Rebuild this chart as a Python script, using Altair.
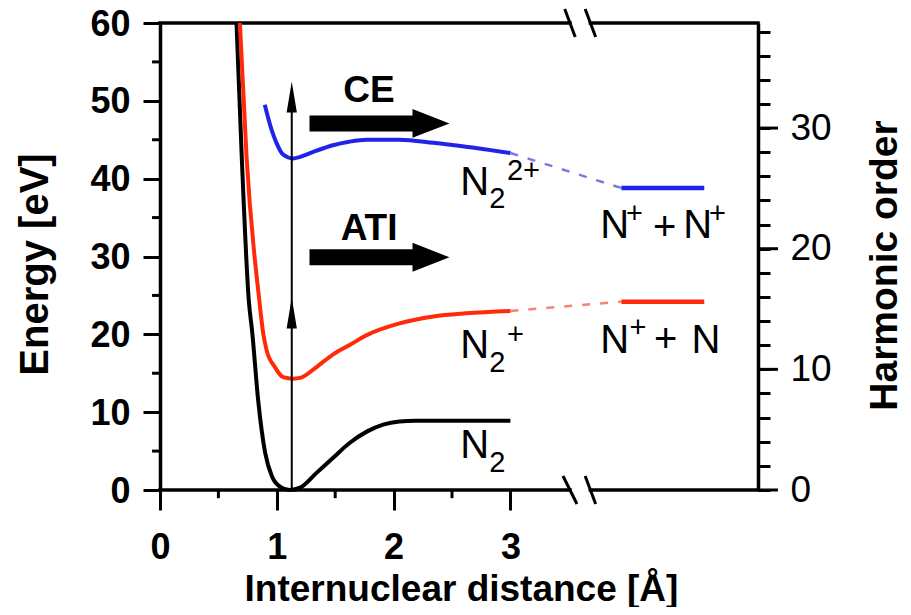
import altair as alt
import pandas as pd

FONT = "Liberation Sans"

# ---------------- data (R in Angstrom, E in eV) ----------------
n2_R = [0.655, 0.70, 0.76, 0.79, 0.84, 0.90, 0.96, 1.03, 1.11, 1.20, 1.34, 1.48, 1.62, 1.77, 1.91, 2.05, 2.19, 2.5, 3.0]
n2_E = [60.0, 42.8, 24.4, 20.2, 11.6, 4.8, 1.7, 0.4, 0.0, 0.3, 2.2, 4.1, 6.0, 7.5, 8.4, 8.8, 8.9, 8.9, 8.9]

n2p_R = [0.684, 0.741, 0.85, 0.883, 0.912, 0.983, 1.054, 1.14, 1.20, 1.34, 1.48, 1.62, 1.77, 2.05, 2.34, 2.62, 3.0]
n2p_E = [60.0, 42.8, 24.4, 20.2, 18.0, 15.8, 14.5, 14.3, 14.4, 15.8, 17.4, 18.6, 19.9, 21.4, 22.3, 22.7, 23.0]

n2pp_R = [0.897, 0.955, 0.997, 1.054, 1.14, 1.20, 1.34, 1.48, 1.62, 1.77, 2.05, 2.34, 2.62, 3.0]
n2pp_E = [49.5, 46.3, 44.6, 43.1, 42.6, 42.8, 43.6, 44.3, 44.75, 45.0, 45.0, 44.6, 44.1, 43.3]

# dissociation limits drawn after the axis break
lim_R = [3.95, 4.66]
lim_pp_E = [38.8, 38.8]   # N+ + N+
lim_p_E = [24.2, 24.2]    # N+ + N

# dashed connections from the curve ends to the limits
conn_pp_R = [3.0, 3.95]
conn_pp_E = [43.3, 38.8]
conn_p_R = [3.0, 3.95]
conn_p_E = [23.0, 24.2]

# axis ranges / ticks
R_MAX = 5.12
E_MAX = 60
EV_PER_HARMONIC = 1.55
H_MAX = E_MAX / EV_PER_HARMONIC
x_ticks = [0, 1, 2, 3]
x_minor = [0.5, 1.5, 2.5]
y_ticks = [0, 10, 20, 30, 40, 50, 60]
y_minor = [5, 15, 25, 35, 45, 55]
h_ticks = list(range(0, 39, 2))
h_major = [0, 10, 20, 30]
break_R = [3.51, 3.685]

# annotations
arrow_R = 1.128
arrow_top = 50.5
arrow_heads_E = [50.5, 22.75]
harrow_R = [1.28, 2.17]
harrow_head_R = 2.32
harrow_E = [47.1, 29.9]
process_text = ["CE", "ATI"]
process_R = [1.79, 1.79]
process_E = [49.9, 32.1]

main_text = ["N", "N", "N", "N", "N", "N", "N"]
main_R = [2.57, 2.57, 2.57, 3.77, 4.48, 3.77, 4.55]
main_E = [37.9, 17.0, 4.1, 32.4, 32.4, 17.6, 17.6]
sub_text = ["2", "2", "2"]
sub_R = [2.82, 2.82, 2.82]
sub_E = [36.2, 15.2, 2.3]
sup_text = ["2+", "+", "+", "+", "+"]
sup_R = [2.97, 2.97, 3.99, 4.70, 4.02]
sup_E = [41.0, 19.9, 35.5, 35.5, 20.8]
op_text = ["+", "+"]
op_R = [4.22, 4.23]
op_E = [33.7, 19.3]

# ---------------- encodings ----------------
X_AXIS = alt.Axis(values=x_ticks, format="d", tickSize=20, tickWidth=3, domain=False,
                  labelFontSize=36, labelFontWeight="bold", labelPadding=20, labelOverlap=False,
                  labelFlush=False,
                  titleFontSize=37, titleFontWeight="bold", titleX=301, titleY=110,
                  titleBaseline="alphabetic", grid=False)
Y_AXIS = alt.Axis(values=y_ticks, format="d", tickSize=17, tickWidth=3, domainWidth=3.5,
                  labelFontSize=36, labelFontWeight="bold", labelPadding=13, labelOverlap=False,
                  labelFlush=False, labelOffset=1,
                  titleFontSize=40, titleFontWeight="bold", titleAngle=270, titleX=-125, titleY=241,
                  titleBaseline="middle", titleAlign="center", grid=False)
H_AXIS = alt.Axis(orient="right", values=h_ticks, tickSize=12, tickWidth=3, domainWidth=3.5,
                  labelExpr="datum.value % 10 === 0 ? datum.label : ''",
                  labelFontSize=37, labelFontWeight="normal", labelPadding=20, labelOverlap=False,
                  labelFlush=False,
                  titleFontSize=39, titleFontWeight="bold", titleAngle=270, titleX=126, titleY=242,
                  titleBaseline="middle", titleAlign="center", grid=False)

XS = alt.Scale(domain=[0, R_MAX], nice=False, zero=False)
YS = alt.Scale(domain=[0, E_MAX], nice=False, zero=False)
HS = alt.Scale(domain=[0, H_MAX], nice=False, zero=False)


def X(f="R"):
    return alt.X(f"{f}:Q", scale=XS, axis=X_AXIS, title="Internuclear distance [Å]")


def Y(f="E"):
    return alt.Y(f"{f}:Q", scale=YS, axis=Y_AXIS, title="Energy [eV]")


def curve(R, E, color, width=4, dash=None):
    df = pd.DataFrame({"R": R, "E": E})
    kw = dict(color=color, strokeWidth=width, interpolate="monotone")
    if dash:
        kw["strokeDash"] = dash
    return alt.Chart(df).mark_line(**kw).encode(x=X(), y=Y())


def texts(txt, R, E, size, weight="normal", align="left", baseline="alphabetic"):
    df = pd.DataFrame({"t": txt, "R": R, "E": E})
    return alt.Chart(df).mark_text(font=FONT, fontSize=size, fontWeight=weight, align=align,
                                   baseline=baseline, color="black").encode(
        x=X(), y=Y(), text="t:N")


layers = []

# frame: top and bottom lines with break gap
frame_df = pd.DataFrame({"R": [0, break_R[1], 0, break_R[1]],
                         "R2": [break_R[0], R_MAX, break_R[0], R_MAX],
                         "E": [E_MAX, E_MAX, 0, 0]})
layers.append(alt.Chart(frame_df).mark_rule(color="black", strokeWidth=3.5, strokeCap="square").encode(
    x=X(), x2="R2:Q", y=Y()))

# break slashes
brk_df = pd.DataFrame({
    "R": [break_R[0] - 0.045, break_R[1] - 0.045, break_R[0] - 0.06, break_R[1] - 0.045],
    "R2": [break_R[0] + 0.045, break_R[1] + 0.045, break_R[0] + 0.06, break_R[1] + 0.045],
    "E": [E_MAX + 1.8, E_MAX + 1.8, 1.8, 1.8],
    "E2": [E_MAX - 1.8, E_MAX - 1.8, -1.8, -1.8]})
layers.append(alt.Chart(brk_df).mark_rule(color="black", strokeWidth=3).encode(
    x=X(), x2="R2:Q", y=Y(), y2="E2:Q"))

# minor ticks
ym_df = pd.DataFrame({"E": y_minor, "R": [-0.068] * len(y_minor), "R2": [0] * len(y_minor)})
layers.append(alt.Chart(ym_df).mark_rule(color="black", strokeWidth=3).encode(x=X(), x2="R2:Q", y=Y()))
xm_df = pd.DataFrame({"R": x_minor, "E": [0] * len(x_minor), "E2": [-1.05] * len(x_minor)})
layers.append(alt.Chart(xm_df).mark_rule(color="black", strokeWidth=3).encode(x=X(), y=Y(), y2="E2:Q"))

# dashed connectors
layers.append(curve(conn_pp_R, conn_pp_E, "#7479e4", width=2.4, dash=[8, 10]))
layers.append(curve(conn_p_R, conn_p_E, "#f0837c", width=2.4, dash=[8, 10]))

# curves
layers.append(curve(n2_R, n2_E, "black"))
layers.append(curve(n2p_R, n2p_E, "#ff2a0a"))
layers.append(curve(n2pp_R, n2pp_E, "#1f25e8"))
layers.append(curve(lim_R, lim_pp_E, "#1f25e8", width=4.5))
layers.append(curve(lim_R, lim_p_E, "#ff2a0a", width=4.5))

# vertical photon arrow
va_df = pd.DataFrame({"R": [arrow_R], "E": [0], "E2": [arrow_top]})
layers.append(alt.Chart(va_df).mark_rule(color="black", strokeWidth=2).encode(x=X(), y=Y(), y2="E2:Q"))
vh_df = pd.DataFrame({"R": [arrow_R] * 2, "E": arrow_heads_E})
layers.append(alt.Chart(vh_df).mark_point(shape="M0,-1L0.33,1L-0.33,1Z", size=960, filled=True,
                                          color="black", opacity=1, strokeWidth=0).encode(x=X(), y=Y()))

# horizontal thick arrows
ha_df = pd.DataFrame({"R": [harrow_R[0]] * 2, "R2": [harrow_R[1]] * 2, "E": harrow_E})
layers.append(alt.Chart(ha_df).mark_rule(color="black", strokeWidth=16).encode(x=X(), x2="R2:Q", y=Y()))
hh_df = pd.DataFrame({"R": [harrow_head_R] * 2, "E": harrow_E})
layers.append(alt.Chart(hh_df).mark_point(shape="M-1,-0.78L1,0L-1,0.78Z", size=1369, filled=True,
                                          color="black", opacity=1, strokeWidth=0).encode(x=X(), y=Y()))

# texts
layers.append(texts(process_text, process_R, process_E, 37, weight="bold", align="center"))
layers.append(texts(main_text, main_R, main_E, 40))
layers.append(texts(sub_text, sub_R, sub_E, 29))
layers.append(texts(sup_text, sup_R, sup_E, 29, baseline="middle"))
layers.append(texts(op_text, op_R, op_E, 40, baseline="middle"))

energy = alt.layer(*layers)

# harmonic-order axis (right), long major ticks
hm_df = pd.DataFrame({"h": h_major, "R": [R_MAX] * len(h_major), "R2": [R_MAX + 0.171] * len(h_major)})
harm = alt.Chart(hm_df).mark_rule(color="black", strokeWidth=3).encode(
    x=X(), x2="R2:Q",
    y=alt.Y("h:Q", scale=HS, axis=H_AXIS, title="Harmonic order"))

chart = alt.layer(energy, harm).resolve_scale(y="independent").properties(
    width=598, height=467,
    padding={"left": 152, "top": 15, "right": 145, "bottom": 117},
    autosize=alt.AutoSizeParams(type="none"),
).configure_view(stroke=None).configure_axis(
    labelFont=FONT, titleFont=FONT, labelColor="black", titleColor="black",
    tickColor="black", domainColor="black", grid=False)

chart.save("out.html", embed_options={"renderer": "svg", "actions": False})
